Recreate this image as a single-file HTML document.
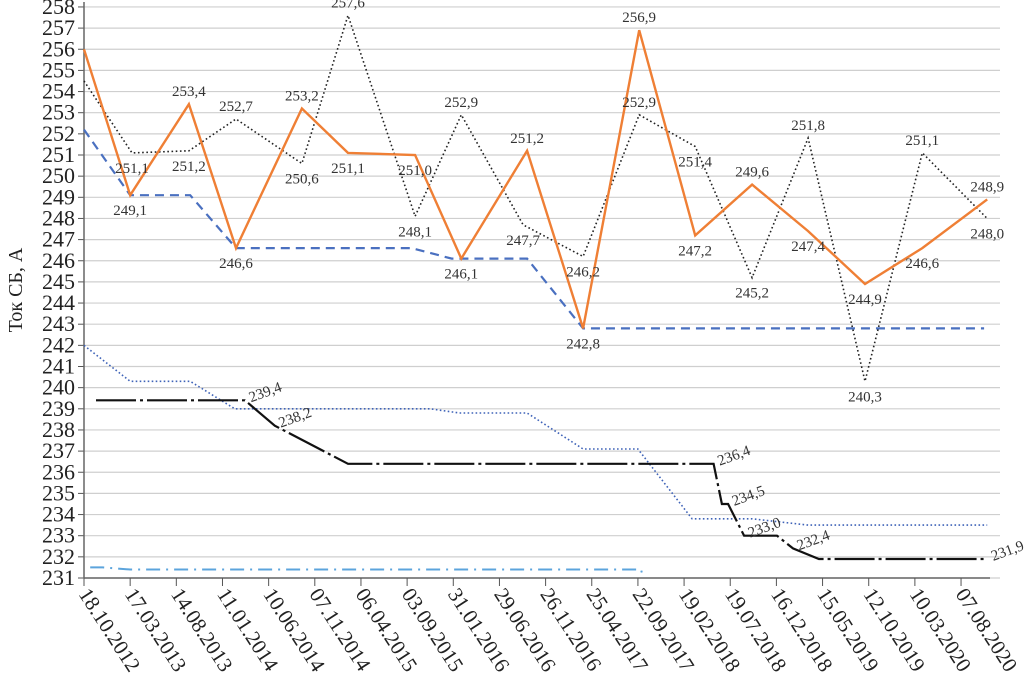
<!DOCTYPE html>
<html><head><meta charset="utf-8"><style>
html,body{margin:0;padding:0;background:#fff;}
svg text{font-family:"Liberation Serif","DejaVu Serif",serif;}
</style></head><body>
<svg id="chart" width="1034" height="685" xmlns="http://www.w3.org/2000/svg"></svg>
<script>
// ---- data (x = days since 18.10.2012) ----
const yTicks = [231,232,233,234,235,236,237,238,239,240,241,242,243,244,245,246,247,248,249,250,251,252,253,254,255,256,257,258];
const xTickLabels = ["18.10.2012","17.03.2013","14.08.2013","11.01.2014","10.06.2014","07.11.2014","06.04.2015","03.09.2015","31.01.2016","29.06.2016","26.11.2016","25.04.2017","22.09.2017","19.02.2018","19.07.2018","16.12.2018","15.05.2019","12.10.2019","10.03.2020","07.08.2020"];
const xTickDays = [0,150,300,450,600,750,900,1050,1200,1350,1500,1650,1800,1950,2100,2250,2400,2550,2700,2850];

const orangeDays = [0,150,341,494,708,858,1076,1226,1440,1622,1804,1986,2171,2353,2538,2724,2935];
const orangeVals = [256.0,249.1,253.4,246.6,253.2,251.1,251.0,246.1,251.2,242.8,256.9,247.2,249.6,247.4,244.9,246.6,248.9];

const dottedDays = [0,156,341,494,708,858,1076,1226,1427,1622,1804,1986,2171,2353,2538,2724,2935];
const dottedVals = [254.5,251.1,251.2,252.7,250.6,257.6,248.1,252.9,247.7,246.2,252.9,251.4,245.2,251.8,240.3,251.1,248.0];

const dashedDays = [0,150,345,494,1065,1195,1440,1622,2925];
const dashedVals = [252.2,249.1,249.1,246.6,246.6,246.1,246.1,242.8,242.8];

const blueDotDays = [0,150,345,490,1125,1220,1440,1622,1800,1976,2171,2353,2935];
const blueDotVals = [242.0,240.3,240.3,239.0,239.0,238.8,238.8,237.1,237.1,233.8,233.8,233.5,233.5];

const blackDays = [39,523,620,858,2046,2073,2093,2145,2252,2304,2388,2935];
const blackVals = [239.4,239.4,238.2,236.4,236.4,234.5,234.5,233.0,233.0,232.4,231.9,231.9];
const blackLabeled = [1,2,4,6,7,9,11];

const lightDays = [20,60,150,1810,1817];
const lightVals = [231.5,231.5,231.4,231.4,231.0];

// ---- scales ----
const X0=84, PX_PER_DAY=46.16/150, Y0=578, PX_PER_UNIT=21.15;
const xs = d => X0 + d*PX_PER_DAY;
const ys = v => Y0 - (v-231)*PX_PER_UNIT;
const svg = document.getElementById('chart');
const NS='http://www.w3.org/2000/svg';
function mk(tag, attrs, parent){const e=document.createElementNS(NS,tag);for(const k in attrs)e.setAttribute(k,attrs[k]);(parent||svg).appendChild(e);return e;}
const fmt = v => v.toFixed(1).replace('.',',');

// grid + y ticks
yTicks.forEach(v=>{
  const g=mk('line',{x1:X0,x2:1000,y1:ys(v),y2:ys(v),stroke:'#cfcfcf','stroke-width':1.2});
  
  
  const t=mk('line',{x1:X0-6,x2:X0,y1:ys(v),y2:ys(v),stroke:'#555','stroke-width':1});
  
  
  const l=mk('text',{x:X0-9,y:ys(v)+7,'text-anchor':'end','font-size':22,fill:'#222'});
  l.textContent=v;
  
  
});
const ya=mk('line',{x1:X0,x2:X0,y1:2,y2:Y0,stroke:'#666','stroke-width':1.5});


const xa=mk('line',{x1:X0,x2:990,y1:Y0,y2:Y0,stroke:'#666','stroke-width':1.5});


const yt=mk('text',{x:0,y:0,'text-anchor':'middle','font-size':20,fill:'#222',transform:'translate(22,290) rotate(-90)'});
yt.textContent='Ток СБ, А';



xTickDays.forEach((d,i)=>{
  const x=xs(d);
  const t=mk('line',{x1:x,x2:x,y1:Y0,y2:Y0+8,stroke:'#555','stroke-width':1});
  
  
  const l=mk('text',{x:0,y:0,'font-size':21,fill:'#222',transform:`translate(${x-6},${Y0+16}) rotate(57)`});
  l.textContent=xTickLabels[i];
  
  
});

function series(days, vals, style, name){
  const pts=days.map((d,i)=>xs(d).toFixed(1)+','+ys(vals[i]).toFixed(1)).join(' ');
  const p=mk('polyline',Object.assign({points:pts,fill:'none'},style));
  
  
}
series(lightDays,lightVals,{stroke:'#5ca4dc','stroke-width':2,'stroke-dasharray':'14,6,2,6'},'light-blue-dashdot-line');
series(blueDotDays,blueDotVals,{stroke:'#3f63b8','stroke-width':1.6,'stroke-dasharray':'1.6,2.4'},'blue-dotted-line');
series(blackDays,blackVals,{stroke:'#111','stroke-width':2.2,'stroke-dasharray':'40,4,3,4'},'black-dashdot-line');
series(dashedDays,dashedVals,{stroke:'#4a70c0','stroke-width':2.2,'stroke-dasharray':'9,6'},'blue-dashed-line');
series(dottedDays,dottedVals,{stroke:'#222','stroke-width':1.6,'stroke-dasharray':'1.6,2.6'},'black-dotted-line');
series(orangeDays,orangeVals,{stroke:'#ef7f35','stroke-width':2.4,'stroke-linejoin':'miter'},'orange-line');

function labels(days, vals, name, skipFirst){
  vals.forEach((v,i)=>{
    if(i===0 && skipFirst) return;
    const prev=i>0?vals[i-1]:-1e9, next=i<vals.length-1?vals[i+1]:-1e9;
    const prevL=i>0?vals[i-1]:1e9, nextL=i<vals.length-1?vals[i+1]:1e9;
    let dy;
    if(v>=prev && v>=next) dy=-8; else if(v<=prevL && v<=nextL) dy=20; else dy=20;
    const t=mk('text',{x:xs(days[i]),y:ys(v)+dy,'text-anchor':'middle','font-size':15,fill:'#333'});
    t.textContent=fmt(v);
    
    
  });
}
labels(orangeDays,orangeVals,'orange-value-label',true);
labels(dottedDays,dottedVals,'dotted-value-label',true);
blackLabeled.forEach(i=>{
  const x=xs(blackDays[i])+6, y=ys(blackVals[i])+2;
  const t=mk('text',{x:0,y:0,'font-size':15,fill:'#333',transform:`translate(${x},${y}) rotate(-20)`});
  t.textContent=fmt(blackVals[i]);
  
  
});
</script>
</body></html>
